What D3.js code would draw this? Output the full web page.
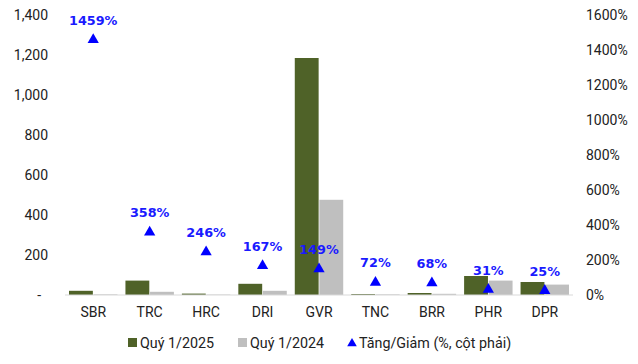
<!DOCTYPE html>
<html>
<head>
<meta charset="utf-8">
<script src="https://cdn.jsdelivr.net/npm/d3@7"></script>
<style>
  body { margin: 0; background: #fff; }
  svg text { font-family: Roboto, sans-serif; }
</style>
</head>
<body>
<div id="chart"></div>
<script>
// data
const tickers   = ['SBR', 'TRC', 'HRC', 'DRI', 'GVR', 'TNC', 'BRR', 'PHR', 'DPR']
const q2025     = [21, 72, 7, 56, 1185, 5, 10, 95, 65]
const q2024     = [3, 16, 2, 21, 476, 3, 6, 72, 52]
const changePct = [1459, 358, 246, 167, 149, 72, 68, 31, 25]
const leftTicks  = [0, 200, 400, 600, 800, 1000, 1200, 1400]
const rightTicks = [0, 200, 400, 600, 800, 1000, 1200, 1400, 1600]
const seriesNames = ['Quý 1/2025', 'Quý 1/2024', 'Tăng/Giảm (%, cột phải)']

const W = 638, H = 364
const plot = { left: 65, right: 573, top: 15, bottom: 295 }
const green = '#4f6228', grey = '#bfbfbf', blue = '#0000ff'

const svg = d3.select('#chart').append('svg')
    .attr('width', W).attr('height', H)

const x = d3.scaleBand().domain(tickers).range([plot.left, plot.right])
const xSub = d3.scaleBand().domain(['a', 'b'])
    .range([4, x.bandwidth() - 4]).paddingInner(0.03)
const yLeft = d3.scaleLinear().domain([0, 1400]).range([plot.bottom, plot.top])
const yRight = d3.scaleLinear().domain([0, 1600]).range([plot.bottom, plot.top])

// left axis
svg.append('g')
    .attr('transform', `translate(${plot.left},0)`)
    .call(d3.axisLeft(yLeft).tickValues(leftTicks).tickSize(0).tickPadding(17)
        .tickFormat(d => d === 0 ? '-' : d3.format(',')(d)))
    .call(g => g.select('.domain').remove())
    .selectAll('text')
        .style('font-size', '14px')
        .style('fill', '#222')
        .attr('dx', d => d === 0 ? -7 : 0)

// right axis
svg.append('g')
    .attr('transform', `translate(${plot.right},0)`)
    .call(d3.axisRight(yRight).tickValues(rightTicks).tickSize(0).tickPadding(13)
        .tickFormat(d => d + '%'))
    .call(g => g.select('.domain').remove())
    .selectAll('text')
        .style('font-size', '14px')
        .style('fill', '#222')

// bars
const groups = svg.selectAll('.grp')
    .data(tickers)
    .join('g')
    .attr('class', 'grp')
    .attr('transform', d => `translate(${x(d)},0)`)

groups.append('rect')
    .attr('x', xSub('a'))
    .attr('width', xSub.bandwidth())
    .attr('y', (d, i) => yLeft(q2025[i]))
    .attr('height', (d, i) => yLeft(0) - yLeft(q2025[i]))
    .attr('fill', green)

groups.append('rect')
    .attr('x', xSub('b'))
    .attr('width', xSub.bandwidth())
    .attr('y', (d, i) => yLeft(q2024[i]))
    .attr('height', (d, i) => yLeft(0) - yLeft(q2024[i]))
    .attr('fill', grey)

// baseline
svg.append('line')
    .attr('x1', plot.left).attr('x2', plot.right)
    .attr('y1', yLeft(0)).attr('y2', yLeft(0))
    .attr('stroke', '#d9d9d9').attr('stroke-width', 1)

// x labels
svg.append('g')
    .attr('transform', `translate(0,${plot.bottom})`)
    .call(d3.axisBottom(x).tickSize(0).tickPadding(12))
    .call(g => g.select('.domain').remove())
    .selectAll('text')
        .style('font-size', '14px')
        .style('fill', '#222')

// triangles and labels
const tri = d3.symbol().type(d3.symbolTriangle).size(55)
svg.selectAll('.marker')
    .data(tickers)
    .join('path')
    .attr('class', 'marker')
    .attr('d', tri)
    .attr('transform', (d, i) => `translate(${x(d) + x.bandwidth() / 2},${yRight(changePct[i])})`)
    .attr('fill', blue)

svg.selectAll('.lbl')
    .data(tickers)
    .join('text')
    .attr('class', 'lbl')
    .attr('x', d => x(d) + x.bandwidth() / 2)
    .attr('y', (d, i) => yRight(changePct[i]) - 15)
    .attr('text-anchor', 'middle')
    .style('font-family', '"DejaVu Sans", sans-serif')
    .style('font-weight', 'bold')
    .style('font-size', '12.8px')
    .style('fill', '#1a1aff')
    .text((d, i) => changePct[i] + '%')

// legend
const legend = svg.append('g').attr('transform', 'translate(0,343)')
const legItems = [
    { x: 128, kind: 'rect', color: green },
    { x: 238, kind: 'rect', color: grey },
    { x: 347, kind: 'tri', color: blue }
]
legItems.forEach((it, i) => {
    if (it.kind === 'rect') {
        legend.append('rect')
            .attr('x', it.x).attr('y', -5)
            .attr('width', 9).attr('height', 9)
            .attr('fill', it.color)
    } else {
        legend.append('path')
            .attr('d', d3.symbol().type(d3.symbolTriangle).size(40))
            .attr('transform', `translate(${it.x + 5},0.5)`)
            .attr('fill', it.color)
    }
    legend.append('text')
        .attr('x', it.x + 12)
        .attr('y', 5)
        .style('font-size', '14.3px')
        .style('fill', '#222')
        .text(seriesNames[i])
})
</script>
</body>
</html>
